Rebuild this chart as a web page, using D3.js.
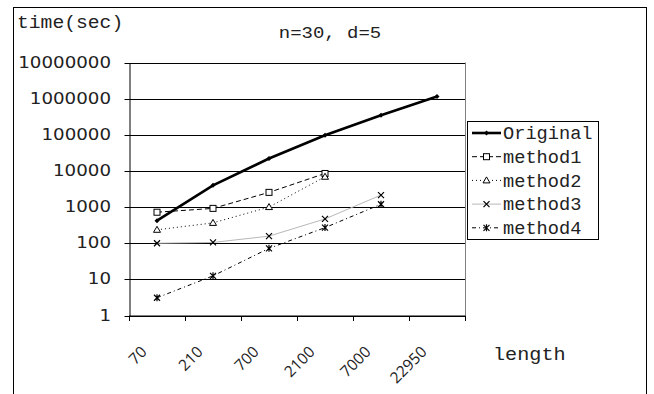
<!DOCTYPE html>
<html><head><meta charset="utf-8">
<script src="https://cdnjs.cloudflare.com/ajax/libs/d3/7.8.5/d3.min.js"></script>
<style>body{margin:0;background:#fff}svg{display:block}</style>
</head><body><svg id="c" width="654" height="394"></svg>
<script>
const categories = ["70","210","700","2100","7000","22950"];
const original = [420, 4000, 22000, 97000, 345000, 1150000];
const method1 = [720, 920, 2550, 8500, null, null];
const method2 = [235, 365, 1000, 6900, null, null];
const method3 = [100, 105, 157, 470, 2150, null];
const method4 = [3.1, 12.5, 72, 270, 1200, null];
const yTicks = [1,10,100,1000,10000,100000,1000000,10000000];
const seriesNames = ["Original","method1","method2","method3","method4"];
const seriesData = [original, method1, method2, method3, method4];

const svg = d3.select("#c");
const M = {l:129, r:465, t:62.5, b:315.5};
const x = d3.scaleBand().domain(categories).range([M.l, M.r]);
const y = d3.scaleLog().domain([1, 1e7]).range([M.b, M.t]);
const mono = "'Liberation Mono','Courier New',monospace";
const sans = "'DejaVu Sans',Verdana,sans-serif";

// outer frame
svg.append("rect").attr("x",13.5).attr("y",7.5).attr("width",633).attr("height",420)
  .attr("fill","none").attr("stroke","#000");

// gridlines
svg.append("g").selectAll("line").data(yTicks).join("line")
  .attr("x1",M.l).attr("x2",M.r)
  .attr("y1",d=>Math.round(y(d))+0.5).attr("y2",d=>Math.round(y(d))+0.5)
  .attr("stroke","#000").attr("stroke-width",1);
// right border
svg.append("line").attr("x1",M.r+0.5).attr("x2",M.r+0.5).attr("y1",M.t).attr("y2",M.b)
  .attr("stroke","#808080");

// y axis
const sxY = 1.216;
const ya = svg.append("g").attr("transform",`translate(${M.l+0.5},0)`)
  .call(d3.axisLeft(y).tickValues(yTicks).tickFormat(d3.format("d")).tickSize(5).tickPadding(14).tickSizeOuter(0));
ya.select(".domain").attr("stroke","#000");
ya.selectAll("text").attr("font-family",sans).attr("font-size",15).attr("fill","#222")
  .attr("x",-18.5/sxY).attr("transform",`scale(${sxY},1)`);
ya.selectAll(".tick line").attr("stroke","#000");
ya.selectAll(".tick").attr("transform",d=>`translate(0,${Math.round(y(d))+0.5})`);

// x axis
const xa = svg.append("g").attr("transform",`translate(0,${M.b+0.5})`);
xa.append("line").attr("x1",M.l).attr("x2",M.r+1).attr("stroke","#000");
const bounds = categories.map(c=>x(c)).concat([M.r]);
xa.selectAll(".tk").data(bounds).join("line").attr("class","tk")
  .attr("x1",d=>Math.round(d)+0.5).attr("x2",d=>Math.round(d)+0.5).attr("y1",0).attr("y2",5).attr("stroke","#000");
xa.selectAll("text").data(categories).join("text")
  .attr("transform",d=>`translate(${x(d)+x.bandwidth()/2-13},${33}) rotate(-45)`)
  .attr("text-anchor","end").attr("font-family","'Open Sans','Noto Sans',sans-serif").attr("font-size",15.5).attr("fill","#222")
  .attr("dy","0.35em")
  .text(d=>d);

// series
const styles = [
  {stroke:"#000", w:2.6, dash:null, mark:"diamond"},
  {stroke:"#000", w:1, dash:"5,3", mark:"square"},
  {stroke:"#000", w:1, dash:"1,3", mark:"triangle"},
  {stroke:"#b8b8b8", w:1, dash:null, mark:"x"},
  {stroke:"#000", w:1, dash:"4,3,1,3", mark:"star"}
];
function marker(g, type, cx, cy){
  if(type==="diamond"){
    g.append("path").attr("d",`M${cx},${cy-2.5}L${cx+2.5},${cy}L${cx},${cy+2.5}L${cx-2.5},${cy}Z`).attr("fill","#000");
  } else if(type==="square"){
    g.append("rect").attr("x",cx-3).attr("y",cy-3).attr("width",6).attr("height",6).attr("fill","#fff").attr("stroke","#000").attr("stroke-width",1);
  } else if(type==="triangle"){
    g.append("path").attr("d",`M${cx},${cy-3.5}L${cx+3.5},${cy+2.5}L${cx-3.5},${cy+2.5}Z`).attr("fill","#fff").attr("stroke","#000").attr("stroke-width",1);
  } else if(type==="x"){
    g.append("path").attr("d",`M${cx-3},${cy-3}L${cx+3},${cy+3}M${cx+3},${cy-3}L${cx-3},${cy+3}`).attr("stroke","#000").attr("stroke-width",1.2);
  } else {
    g.append("path").attr("d",`M${cx-3},${cy-3}L${cx+3},${cy+3}M${cx+3},${cy-3}L${cx-3},${cy+3}M${cx},${cy-3.5}L${cx},${cy+3.5}`).attr("stroke","#000").attr("stroke-width",1.2);
  }
}
const line = d3.line().defined(d=>d.v!=null).x(d=>x(d.c)+x.bandwidth()/2).y(d=>y(d.v));
seriesData.forEach((arr,i)=>{
  const pts = categories.map((c,j)=>({c, v:arr[j]}));
  const st = styles[i];
  const g = svg.append("g");
  g.append("path").datum(pts).attr("d",line).attr("fill","none").attr("stroke",st.stroke)
    .attr("stroke-width",st.w).attr("stroke-dasharray",st.dash);
  pts.filter(p=>p.v!=null).forEach(p=>marker(g, st.mark, x(p.c)+x.bandwidth()/2, y(p.v)));
});

// legend
const sxM = 11.2/(0.6*17.5);
const lg = svg.append("g");
lg.append("rect").attr("x",467.5).attr("y",121.5).attr("width",131).attr("height",118)
  .attr("fill","#fff").attr("stroke","#000");
seriesNames.forEach((n,i)=>{
  const cy = 133 + i*23.7;
  const st = styles[i];
  lg.append("line").attr("x1",472).attr("x2",501).attr("y1",cy).attr("y2",cy)
    .attr("stroke",st.stroke).attr("stroke-width",st.w).attr("stroke-dasharray",st.dash);
  marker(lg, st.mark, 486.5, cy);
  lg.append("text").attr("transform",`translate(503,${cy}) scale(${sxM},1)`).attr("dy","0.35em")
    .attr("font-family",mono).attr("font-size",17.5).attr("fill","#222").text(n);
});

// texts
function monoText(str, tx, ty, fs, perChar, anchor){
  const sx = perChar/(0.6*fs);
  svg.append("text").attr("transform",`translate(${tx},${ty}) scale(${sx},1)`)
    .attr("text-anchor",anchor||"start").attr("font-family",mono).attr("font-size",fs).attr("fill","#222").text(str);
}
monoText("time(sec)", 17, 28, 17.5, 11.8);
monoText("n=30, d=5", 330, 38, 16, 11.4, "middle");
monoText("length", 493, 360, 17.5, 12.1);
</script></body></html>
